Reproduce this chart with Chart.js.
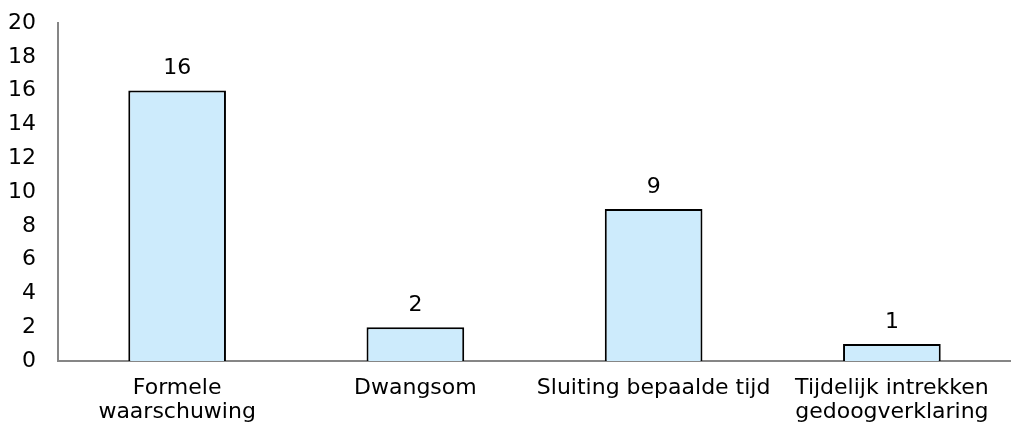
<!DOCTYPE html>
<html>
<head>
<meta charset="utf-8">
<script src="https://cdn.jsdelivr.net/npm/chart.js@4/dist/chart.umd.min.js"></script>
<style>
html,body{margin:0;padding:0;background:#fff;}
#wrap{width:1011px;height:430px;position:relative;}
</style>
</head>
<body>
<div id="wrap"><canvas id="c"></canvas></div>
<script>
const categories = [["Formele","waarschuwing"],"Dwangsom","Sluiting bepaalde tijd",["Tijdelijk intrekken","gedoogverklaring"]];
const values = [16, 2, 9, 1];
const yMin = 0, yMax = 20, yStep = 2;

const FONT = "'DejaVu Sans', sans-serif";
const FSIZE = 22;

const valueLabels = {
  id: 'valueLabels',
  afterDatasetsDraw(chart) {
    const ctx = chart.ctx;
    const meta = chart.getDatasetMeta(0);
    ctx.save();
    ctx.font = FSIZE + "px " + FONT;
    ctx.fillStyle = '#000';
    ctx.textAlign = 'center';
    ctx.textBaseline = 'middle';
    meta.data.forEach((el, i) => {
      ctx.fillText(String(values[i]), el.x, el.y - 22);
    });
    ctx.restore();
  }
};

new Chart(document.getElementById('c'), {
  type: 'bar',
  data: {
    labels: categories,
    datasets: [{
      data: values,
      backgroundColor: '#CDEBFC',
      borderColor: '#000',
      borderWidth: 2,
      barPercentage: 0.41,
      categoryPercentage: 1
    }]
  },
  options: {
    responsive: true,
    maintainAspectRatio: false,
    animation: false,
    layout: { padding: { top: 23, right: 0, left: 0, bottom: 0 } },
    plugins: { legend: { display: false }, tooltip: { enabled: false } },
    scales: {
      x: {
        grid: { display: false, drawTicks: false },
        border: { display: true, color: '#868686', width: 2 },
        ticks: { color: '#000', font: { family: FONT, size: FSIZE, lineHeight: 1.1 }, padding: 15, maxRotation: 0, autoSkip: false },
        afterFit(s) { s.height = 69; }
      },
      y: {
        min: yMin, max: yMax,
        grid: { display: false, drawTicks: false },
        border: { display: true, color: '#868686', width: 2 },
        ticks: { stepSize: yStep, color: '#000', font: { family: FONT, size: FSIZE }, padding: 22 },
        afterFit(s) { s.width = 58; s.paddingTop = 0; s.paddingBottom = 0; }
      }
    }
  },
  plugins: [valueLabels]
});
</script>
</body>
</html>
